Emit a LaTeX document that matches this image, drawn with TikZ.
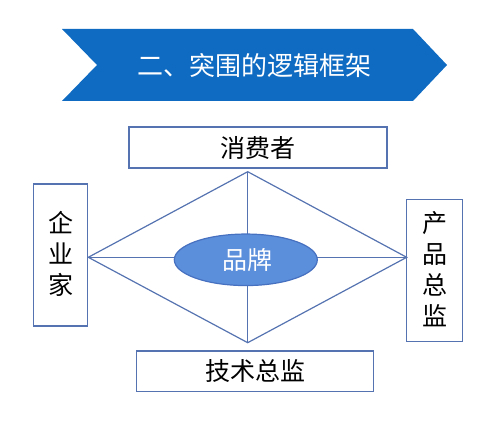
\documentclass[tikz,border=0pt]{standalone}
\usepackage{fontspec}
\setmainfont{Noto Sans CJK SC}
\usetikzlibrary{shapes.geometric}
\definecolor{bannerblue}{HTML}{0F6BC2}
\definecolor{linec}{HTML}{5573B0}
\definecolor{ellfill}{HTML}{5B8EDB}
\definecolor{ellline}{HTML}{4670C0}
\begin{document}
\begin{tikzpicture}[x=1pt,y=-1pt,
  box/.style={draw=linec,line width=1.2pt,fill=white},
  lab/.style={font=\fontsize{25}{31}\selectfont,text=black,inner sep=0pt,align=center},
  conn/.style={draw=linec,line width=1.2pt}]
\useasboundingbox (0,0) rectangle (500,443);
% banner
\fill[bannerblue] (62,29) -- (413,29) -- (447,65) -- (413,101) -- (62,101) -- (97,65) -- cycle;
\node[lab,text=white,font=\fontsize{26}{31}\selectfont] (title) at (254,66) {二、突围的逻辑框架};
% boxes
\node[box,minimum width=258pt,minimum height=41pt,inner sep=0pt] (top) at (258,147.5) {};
\node[lab] (toplab) at (258,148) {消费者};
\node[box,minimum width=54.5pt,minimum height=142pt,inner sep=0pt] (left) at (60.5,255) {};
\node[lab] (leftlab) at (60.5,254) {企\\业\\家};
\node[box,minimum width=55.5pt,minimum height=142.5pt,inner sep=0pt] (right) at (434.5,270.5) {};
\node[lab] (rightlab) at (434.5,269) {产\\品\\总\\监};
\node[box,minimum width=236.5pt,minimum height=40.5pt,inner sep=0pt] (bottom) at (255,371.3) {};
\node[lab] (bottomlab) at (255,371) {技术总监};
% diamond
\coordinate (dt) at (247.7,171.7);
\coordinate (db) at (247.7,342.7);
\coordinate (dl) at (88.3,257.3);
\coordinate (dr) at (406.7,257.3);
\draw[conn] (dt) -- (dr) -- (db) -- (dl) -- cycle;
\draw[conn] (dt) -- (db);
\draw[conn] (dl) -- (dr);
% ellipse
\node[ellipse,draw=ellline,line width=1.2pt,fill=ellfill,minimum width=143pt,minimum height=51.5pt,inner sep=0pt] (brand) at (245.8,259.8) {};
\node[lab,text=white] (brandlab) at (247.5,259.5) {品牌};
\end{tikzpicture}
\end{document}
